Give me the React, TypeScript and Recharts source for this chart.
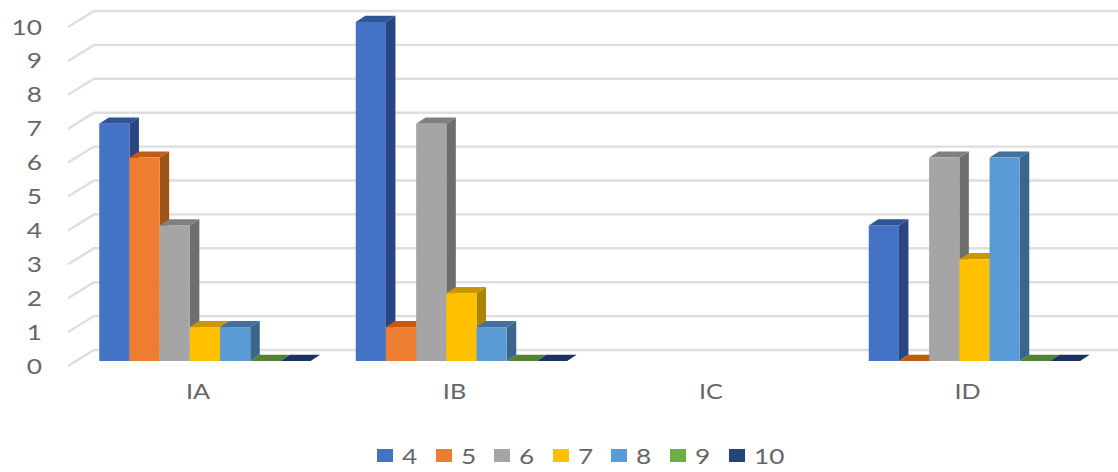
import React from "react";
import { BarChart, Bar, XAxis, YAxis, CartesianGrid, Legend } from "recharts";

const categories = ["IA", "IB", "IC", "ID"];
const seriesNames = ["4", "5", "6", "7", "8", "9", "10"];
const s4 = [7, 10, null, 4];
const s5 = [6, 1, null, 0];
const s6 = [4, 7, null, 6];
const s7 = [1, 2, null, 3];
const s8 = [1, 1, null, 6];
const s9 = [0, 0, null, 0];
const s10 = [0, 0, null, 0];
const seriesValues = [s4, s5, s6, s7, s8, s9, s10];
const yTicks = [0, 1, 2, 3, 4, 5, 6, 7, 8, 9, 10];

const frontColors = ["#4472C4", "#ED7D31", "#A5A5A5", "#FFC000", "#5B9BD5", "#70AD47", "#264478"];
const topColors = ["#2F5597", "#C55A11", "#7F7F7F", "#C99700", "#41719C", "#548235", "#1C3360"];
const sideColors = ["#2A4680", "#9E5414", "#6E6E6E", "#AD8300", "#3A658C", "#47702D", "#182C52"];

const data = categories.map((name, i) => {
  const row: Record<string, any> = { name };
  seriesNames.forEach((s, k) => {
    row[s] = seriesValues[k][i];
  });
  return row;
});

const DX = 9.5;
const DY = 6.2;
const FONT = "Lato, 'Open Sans', sans-serif";
const TEXT = "#666666";

const Bar3D = (props: any) => {
  const { x, y, width, height, idx, value } = props;
  const raw = Array.isArray(value) ? value[1] : value;
  if (raw === null || raw === undefined) return null;
  const b = y + height;
  return (
    <g>
      <polygon points={`${x + width},${y} ${x + width + DX},${y - DY} ${x + width + DX},${b - DY} ${x + width},${b}`} fill={sideColors[idx]} />
      <polygon points={`${x},${y} ${x + width},${y} ${x + width + DX},${y - DY} ${x + DX},${y - DY}`} fill={topColors[idx]} />
      {height > 0 && <rect x={x} y={y} width={width} height={height} fill={frontColors[idx]} />}
    </g>
  );
};

const GridLine = (props: any) => {
  const { y1 } = props;
  return (
    <g stroke="#DEDEDE" strokeWidth={2.4} fill="none">
      <polyline points={`68,${y1 + 5} 94,${y1 - 11} 1118,${y1 - 11}`} />
    </g>
  );
};

const YTick = (props: any) => {
  const { y, payload } = props;
  return (
    <text transform={`translate(42,${y + 12.5}) scale(1.25,1)`} textAnchor="end" fontFamily={FONT} fontSize={21} fill={TEXT}>
      {payload.value}
    </text>
  );
};

const XTick = (props: any) => {
  const { x, y, payload } = props;
  return (
    <text transform={`translate(${x - 6.5},${y + 30}) scale(1.2,1)`} textAnchor="middle" fontFamily={FONT} fontSize={21} fill={TEXT}>
      {payload.value}
    </text>
  );
};

const LegendContent = (props: any) => {
  const items = props.payload || [];
  return (
    <div style={{ display: "flex", height: 24, alignItems: "center" }}>
      {items.map((it: any) => (
        <div key={it.value} style={{ width: 58.6, display: "flex", alignItems: "center" }}>
          <span style={{ display: "inline-block", width: 16, height: 13, background: it.color, marginRight: 9 }} />
          <span style={{ fontFamily: FONT, fontSize: 21, color: TEXT, display: "inline-block", transform: "scaleX(1.25)", transformOrigin: "left center" }}>
            {it.value}
          </span>
        </div>
      ))}
    </div>
  );
};

export default function App() {
  return (
    <div style={{ position: "absolute", left: 0, top: 0, width: 1118, height: 472, background: "#fff" }}>
      <BarChart
        width={1118}
        height={472}
        data={data}
        barSize={30.2}
        barGap={0}
        margin={{ top: 22, right: 15.75, bottom: 40, left: 0 }}
      >
        <CartesianGrid vertical={false} horizontal={(p: any) => <GridLine key={p.key ?? p.index} {...p} />} />
        <XAxis dataKey="name" axisLine={false} tickLine={false} height={47} tick={<XTick />} interval={0} />
        <YAxis domain={[0, 10]} ticks={yTicks} width={76.25} axisLine={false} tickLine={false} tick={<YTick />} interval={0} />
        <Legend
          content={<LegendContent />}
          itemSorter={null}
          wrapperStyle={{ position: "absolute", left: 377, top: 443, width: 420, height: 24 }}
        />
        {seriesNames.map((s, i) => (
          <Bar key={s} dataKey={s} fill={frontColors[i]} isAnimationActive={false} shape={(p: any) => <Bar3D {...p} idx={i} />} />
        ))}
      </BarChart>
    </div>
  );
}
